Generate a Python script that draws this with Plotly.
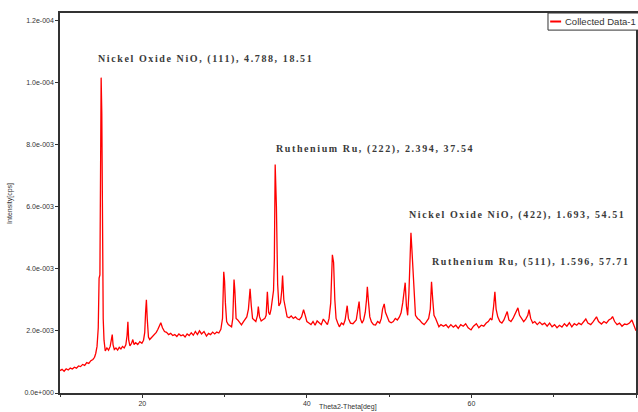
import plotly.graph_objects as go

# ---- data ----
two_theta = [
    10.0, 10.25, 10.5, 10.75, 11.0, 11.25, 11.5, 11.75, 12.0, 12.25, 12.5, 12.75, 13.0, 13.25, 13.5, 13.75,
    14.0, 14.2, 14.35, 14.5, 14.65, 14.75, 14.85, 14.95, 15.0, 15.08, 15.15, 15.25, 15.35, 15.5, 15.7, 15.9,
    16.1, 16.25, 16.35, 16.45, 16.6, 16.8, 17.0, 17.2, 17.4, 17.6, 17.8, 18.0, 18.15, 18.25, 18.35, 18.5,
    18.7, 18.85, 19.0, 19.2, 19.45, 19.7, 19.95, 20.15, 20.3, 20.4, 20.5, 20.6, 20.75, 20.9, 21.1, 21.3,
    21.5, 21.7, 21.9, 22.1, 22.25, 22.45, 22.7, 22.95, 23.2, 23.45, 23.7, 23.95, 24.2, 24.45, 24.7, 24.95,
    25.2, 25.45, 25.7, 25.95, 26.2, 26.45, 26.7, 26.95, 27.2, 27.5, 27.8, 28.05, 28.3, 28.55, 28.8, 29.05,
    29.3, 29.55, 29.75, 29.9, 30.0, 30.1, 30.25, 30.45, 30.65, 30.85, 31.0, 31.15, 31.25, 31.4, 31.6, 31.85,
    32.05, 32.3, 32.5, 32.7, 32.9, 33.1, 33.25, 33.4, 33.6, 33.8, 34.0, 34.1, 34.25, 34.45, 34.65, 34.9,
    35.05, 35.2, 35.35, 35.5, 35.65, 35.8, 35.95, 36.05, 36.15, 36.3, 36.45, 36.6, 36.8, 36.95, 37.05, 37.2,
    37.4, 37.6, 37.85, 38.1, 38.35, 38.6, 38.85, 39.1, 39.35, 39.6, 39.8, 40.0, 40.25, 40.5, 40.75, 41.0,
    41.25, 41.5, 41.75, 42.0, 42.25, 42.5, 42.7, 42.9, 43.1, 43.25, 43.4, 43.55, 43.75, 43.95, 44.2, 44.45,
    44.65, 44.8, 44.9, 45.05, 45.3, 45.6, 45.85, 46.0, 46.15, 46.35, 46.5, 46.7, 46.9, 47.1, 47.25, 47.35,
    47.5, 47.65, 47.85, 48.1, 48.35, 48.6, 48.85, 49.05, 49.2, 49.4, 49.55, 49.75, 50.0, 50.25, 50.5, 50.75,
    51.0, 51.25, 51.45, 51.65, 51.85, 51.95, 52.1, 52.25, 52.4, 52.55, 52.65, 52.75, 52.9, 53.05, 53.2, 53.45,
    53.7, 54.0, 54.25, 54.5, 54.8, 55.0, 55.15, 55.3, 55.45, 55.65, 55.85, 56.05, 56.3, 56.6, 56.9, 57.2,
    57.5, 57.8, 58.1, 58.4, 58.7, 59.0, 59.3, 59.6, 59.95, 60.25, 60.6, 60.9, 61.2, 61.5, 61.8, 62.05,
    62.3, 62.5, 62.7, 62.85, 63.0, 63.2, 63.45, 63.7, 63.95, 64.2, 64.35, 64.55, 64.8, 65.05, 65.3, 65.5,
    65.65, 65.85, 66.1, 66.35, 66.6, 66.85, 67.0, 67.2, 67.45, 67.7, 68.0, 68.3, 68.6, 68.9, 69.2, 69.5,
    69.8, 70.1, 70.4, 70.7, 71.0, 71.3, 71.6, 71.9, 72.2, 72.5, 72.8, 73.05, 73.35, 73.6, 73.9, 74.15,
    74.5, 74.8, 75.0, 75.2, 75.45, 75.8, 76.1, 76.4, 76.7, 77.0, 77.15, 77.4, 77.7, 78.0, 78.3, 78.6,
    78.9, 79.2, 79.5, 79.8, 80.0,
]
intensity = [
    720, 760, 700, 780, 740, 800, 770, 830, 800, 870, 850, 920, 890, 980, 950, 1040,
    1080, 1150, 1280, 1500, 2100, 3700, 3800, 8000, 10150, 9000, 3800, 2400, 1700, 1350, 1450, 1380,
    1500, 1850, 1880, 1550, 1400, 1450, 1380, 1470, 1420, 1500, 1450, 1550, 1850, 2290, 1700, 1520,
    1600, 1720, 1560, 1620, 1560, 1650, 1600, 1700, 1950, 2600, 3000, 2400, 1800, 1720, 1780, 1820,
    1880, 1950, 2050, 2150, 2260, 2100, 1980, 1950, 1880, 1920, 1850, 1880, 1820, 1900, 1840, 1870,
    1800, 1900, 1850, 1940, 1860, 1980, 1880, 2000, 1900, 1980, 1830, 1920, 1880, 1960, 1900, 1960,
    1930, 2050, 2400, 3900, 3600, 2900, 2300, 2200, 2150, 2130, 2400, 3650, 3300, 2400, 2350, 2250,
    2190, 2300, 2380, 2450, 2700, 3350, 2800, 2400, 2350, 2300, 2500, 2780, 2450, 2320, 2360, 2400,
    2500, 3260, 2600, 2520, 2700, 3100, 3300, 4300, 7350, 6000, 3500, 2800, 2900, 3300, 3780, 3000,
    2680, 2450, 2420, 2480, 2400, 2450, 2380, 2360, 2450, 2680, 2500, 2300, 2250, 2200, 2300, 2180,
    2320, 2250, 2200, 2380, 2300, 2200, 2400, 2900, 4450, 4200, 3000, 2400, 2250, 2130, 2250, 2200,
    2350, 2600, 2810, 2400, 2250, 2230, 2300, 2350, 2600, 2940, 2400, 2250, 2350, 2600, 3000, 3420,
    2900, 2450, 2290, 2200, 2190, 2300, 2250, 2400, 2700, 2870, 2600, 2450, 2300, 2260, 2300, 2400,
    2350, 2450, 2580, 2900, 3500, 3550, 2800, 2500, 3200, 4500, 5160, 4700, 3970, 2900, 2500, 2400,
    2350, 2250, 2200, 2280, 2400, 2700, 3580, 3000, 2500, 2400, 2250, 2130, 2200, 2150, 2200, 2100,
    2200, 2120, 2180, 2080, 2200, 2150, 2230, 2100, 2030, 2150, 2230, 2100, 2180, 2150, 2250, 2300,
    2400, 2350, 2800, 3260, 2700, 2450, 2300, 2250, 2350, 2500, 2620, 2350, 2300, 2400, 2550, 2650,
    2740, 2500, 2400, 2300, 2380, 2500, 2680, 2400, 2250, 2300, 2200, 2280, 2200, 2250, 2150, 2250,
    2130, 2200, 2100, 2180, 2120, 2230, 2150, 2260, 2130, 2230, 2180, 2250, 2200, 2300, 2380, 2250,
    2200, 2300, 2400, 2450, 2300, 2220, 2300, 2250, 2350, 2400, 2460, 2300, 2200, 2250, 2150, 2220,
    2200, 2250, 2350, 2100, 2000,
]

x_ticks = [20, 40, 60, 80]
y_ticks = [0, 2000, 4000, 6000, 8000, 10000, 12000]
y_tick_labels = ["0.0e+000", "2.0e-003", "4.0e-003", "6.0e-003", "8.0e-003", "1.0e-004", "1.2e-004"]

peak_labels = [
    "Nickel Oxide NiO, (111), 4.788, 18.51",
    "Ruthenium Ru, (222), 2.394, 37.54",
    "Nickel Oxide NiO, (422), 1.693, 54.51",
    "Ruthenium Ru, (511), 1.596, 57.71",
]
label_x = [14.4, 35.95, 52.2, 55.0]
label_y = [10750, 7850, 5720, 4220]

series_name = "Collected Data-1"

fig = go.Figure()
fig.add_trace(go.Scatter(
    x=two_theta, y=intensity, mode="lines", name=series_name,
    line=dict(color="#ff0000", width=1.3), showlegend=False,
))

serif = dict(family="Liberation Serif", size=10, color="#3a3a3a", weight="bold")
for t, lx, ly in zip(peak_labels, label_x, label_y):
    fig.add_annotation(x=lx, y=ly, xref="x", yref="y", text=t, showarrow=False,
                       xanchor="left", yanchor="middle", align="left", font=serif)

small = dict(family="Liberation Sans", size=7, color="#333333")
# axis titles
fig.add_annotation(x=-0.087, y=0.5, xref="paper", yref="paper", text="Intensity[cps]",
                   textangle=-90, showarrow=False, font=small, xanchor="center", yanchor="middle")
fig.add_annotation(x=0.5, y=-0.037, xref="paper", yref="paper", text="Theta2-Theta[deg]",
                   showarrow=False, font=small, xanchor="center", yanchor="middle")

# legend box (clipped at right edge like the reference)
fig.add_shape(type="rect", xref="paper", yref="paper", x0=0.8472, x1=1.03, y0=0.955, y1=1.0,
              line=dict(color="#333333", width=1), fillcolor="white", layer="above")
fig.add_shape(type="line", xref="paper", yref="paper", x0=0.851, x1=0.870, y0=0.9776, y1=0.9776,
              line=dict(color="#ff0000", width=2), layer="above")
fig.add_annotation(x=0.873, y=0.9776, xref="paper", yref="paper", text=series_name,
                   showarrow=False, xanchor="left", yanchor="middle",
                   font=dict(family="Liberation Sans", size=9.5, color="#333333"))

axis_common = dict(showline=True, linecolor="#333333", linewidth=1.5, mirror=True,
                   showgrid=False, zeroline=False, ticks="outside", ticklen=3,
                   tickcolor="#333333", tickfont=small)
fig.update_xaxes(range=[10, 80], tickvals=x_ticks, minor=dict(ticks="outside", ticklen=2, dtick=10,
                 tickcolor="#333333"), **axis_common)
fig.update_yaxes(range=[0, 12230], tickvals=y_ticks, ticktext=y_tick_labels, **axis_common)

fig.update_layout(
    width=638, height=412,
    margin=dict(l=60, r=2, t=13, b=19, autoexpand=False),
    plot_bgcolor="white", paper_bgcolor="white",
    showlegend=False,
)

post = """
document.body.style.margin = '0';
document.querySelectorAll('g.annotation text').forEach(function (el) {
  var s = el.textContent || '';
  if (s.indexOf('Nickel') === 0 || s.indexOf('Ruthenium') === 0) {
    el.style.letterSpacing = '1.6px';
  }
});
"""
fig.write_html("out.html", post_script=post, config={"displayModeBar": False})
